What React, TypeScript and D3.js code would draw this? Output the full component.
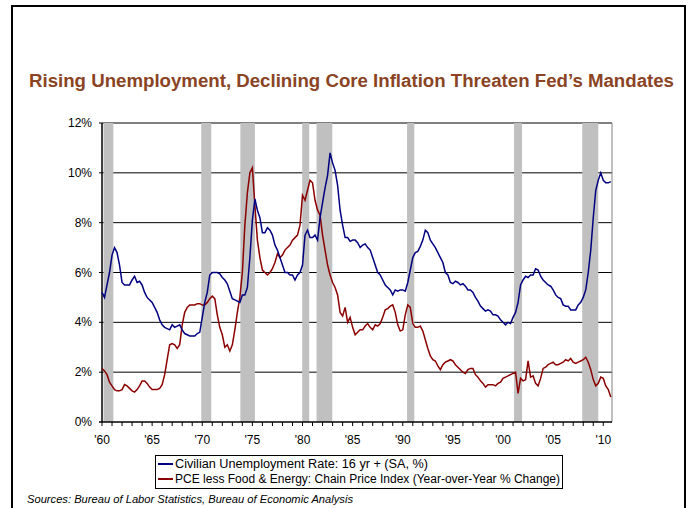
import React from "react";
import * as d3 from "d3";

const startYear = 1960;
// quarterly observations, 1960Q1 .. 2010Q4 (4 per row = one year)
const unemployment = [
  5.2, 5.0, 5.5, 6.0,
  6.7, 7.0, 6.8, 6.3,
  5.6, 5.5, 5.5, 5.5,
  5.7, 5.85, 5.6, 5.65,
  5.5, 5.2, 5.0, 4.9,
  4.8, 4.6, 4.4, 4.1,
  3.9, 3.8, 3.75, 3.7,
  3.9, 3.8, 3.85, 3.9,
  3.7, 3.55, 3.5, 3.45,
  3.45, 3.45, 3.55, 3.6,
  4.2, 4.8, 5.2, 5.9,
  6.0, 6.0, 6.0, 5.95,
  5.8, 5.7, 5.55, 5.25,
  4.95, 4.9, 4.85, 4.8,
  5.1, 5.1, 5.4, 6.6,
  8.1, 8.95, 8.5, 8.2,
  7.6, 7.6, 7.8, 7.7,
  7.5, 7.1, 6.9, 6.6,
  6.3, 6.0, 6.0, 5.9,
  5.9, 5.7, 5.9, 6.0,
  6.3, 7.5, 7.7, 7.4,
  7.4, 7.5, 7.3, 8.2,
  8.8, 9.4, 9.9, 10.8,
  10.4, 10.1, 9.5, 8.5,
  7.9, 7.4, 7.4, 7.25,
  7.3, 7.3, 7.2, 7.0,
  7.1, 7.15, 7.0, 6.9,
  6.6, 6.3, 6.0, 5.9,
  5.7, 5.5, 5.4, 5.3,
  5.1, 5.3, 5.25, 5.3,
  5.3, 5.25, 5.6, 6.1,
  6.6, 6.8, 6.85, 7.05,
  7.3, 7.7, 7.6, 7.3,
  7.15, 7.0, 6.8, 6.6,
  6.4, 6.0, 5.9, 5.6,
  5.55, 5.65, 5.6, 5.5,
  5.55, 5.45, 5.3, 5.3,
  5.2, 5.0, 4.85, 4.65,
  4.55, 4.45, 4.5, 4.45,
  4.3, 4.3, 4.25, 4.1,
  4.0, 3.9, 4.0, 3.95,
  4.2, 4.4, 4.8, 5.5,
  5.7, 5.85, 5.8, 5.9,
  5.9, 6.15, 6.1, 5.85,
  5.7, 5.6, 5.5, 5.45,
  5.3, 5.1, 5.0, 4.95,
  4.7, 4.65, 4.65, 4.5,
  4.5, 4.5, 4.7, 4.8,
  5.0, 5.3, 6.0, 6.9,
  8.2, 9.3, 9.7, 10.0,
  9.7, 9.6, 9.6, 9.65,
];
const corePce = [
  2.15, 2.05, 1.9, 1.6,
  1.45, 1.3, 1.25, 1.25,
  1.3, 1.5, 1.45, 1.35,
  1.25, 1.2, 1.3, 1.45,
  1.65, 1.65, 1.55, 1.4,
  1.3, 1.3, 1.3, 1.35,
  1.5, 1.9, 2.5, 3.1,
  3.15, 3.1, 2.95, 3.1,
  3.9, 4.4, 4.6, 4.7,
  4.7, 4.7, 4.75, 4.75,
  4.7, 4.7, 4.8, 4.95,
  5.05, 4.95, 4.3, 3.8,
  3.5, 3.0, 3.1, 2.85,
  3.1, 3.7, 4.4, 5.0,
  6.0, 7.9, 9.2, 10.0,
  10.2, 8.7, 7.3, 6.6,
  6.1, 6.0, 5.9, 6.0,
  6.15, 6.4, 6.75, 6.6,
  6.7, 6.9, 7.0, 7.1,
  7.3, 7.4, 7.5, 7.9,
  9.1, 8.9, 9.3, 9.7,
  9.6, 8.9, 8.5, 8.3,
  7.5, 6.9, 6.3, 5.9,
  5.6, 5.4, 5.1, 4.4,
  4.25, 4.6, 4.0, 4.2,
  3.8, 3.5, 3.6, 3.7,
  3.7, 3.85, 3.95, 3.8,
  3.7, 3.9, 3.85, 3.95,
  4.2, 4.5, 4.55, 4.65,
  4.7, 4.4, 3.9, 3.65,
  3.7, 4.3, 4.7, 4.6,
  3.95, 3.8, 3.8, 3.85,
  3.65, 3.3, 2.95, 2.65,
  2.5, 2.45, 2.25, 2.1,
  2.3, 2.4, 2.45, 2.5,
  2.45, 2.3, 2.2, 2.1,
  2.0, 1.95, 2.1, 2.15,
  2.15, 1.9, 1.8, 1.65,
  1.55, 1.4, 1.5, 1.5,
  1.5, 1.45, 1.55, 1.6,
  1.75, 1.8, 1.85, 1.9,
  1.95, 2.0, 1.15, 1.75,
  1.65, 1.7, 2.45, 1.8,
  1.85, 1.55, 1.45, 1.75,
  2.15, 2.2, 2.3, 2.35,
  2.4, 2.3, 2.3, 2.35,
  2.4, 2.5, 2.45, 2.55,
  2.4, 2.35, 2.4, 2.45,
  2.5, 2.6, 2.4, 2.1,
  1.7, 1.45, 1.55, 1.8,
  1.75, 1.45, 1.3, 1.0,
];
const recessions: [number, number][] = [
  [1960.15, 1961.13],
  [1969.9, 1970.9],
  [1973.8, 1975.25],
  [1979.97, 1980.67],
  [1981.4, 1982.97],
  [1990.43, 1991.15],
  [2001.1, 2001.9],
  [2007.9, 2009.5],
];
const yTicks = [0, 2, 4, 6, 8, 10, 12];
const xLabelYears = [1960, 1965, 1970, 1975, 1980, 1985, 1990, 1995, 2000, 2005, 2010];
const xLabels = ["'60", "'65", "'70", "'75", "'80", "'85", "'90", "'95", "'00", "'05", "'10"];
const title = "Rising Unemployment, Declining Core Inflation Threaten Fed\u2019s Mandates";
const legendLabels = [
  "Civilian Unemployment Rate: 16 yr + (SA, %)",
  "PCE less Food & Energy: Chain Price Index (Year-over-Year % Change)",
];
const source = "Sources: Bureau of Labor Statistics, Bureau of Economic Analysis";

export default function App() {
  const left = 102, right = 612, top = 123, bottom = 422;
  const x = d3.scaleLinear().domain([1960, 2010.87]).range([left, right]);
  const y = d3.scaleLinear().domain([0, 12]).range([bottom, top]);
  const line = d3
    .line<number>()
    .x((_, i) => x(startYear + i / 4))
    .y((d) => y(d));
  const yearTicks = d3.range(1960, 2011);
  const narrow = "'Liberation Sans Narrow', 'Arial Narrow', 'Liberation Sans', Arial, sans-serif";
  const sans = "'Liberation Sans', Arial, sans-serif";
  return (
    <svg
      width={689}
      height={508}
      style={{ position: "absolute", left: 0, top: 0, background: "#fff" }}
    >
      <rect x={12} y={6} width={673} height={510} fill="#fff" stroke="#000" strokeWidth={2} />
      <text
        x={29}
        y={87}
        fontFamily={narrow}
        fontWeight="bold"
        fontSize={18}
        fill="#8a4424"
        textLength={645}
        lengthAdjust="spacingAndGlyphs"
      >
        {title}
      </text>
      {/* gridlines */}
      {yTicks.slice(1).map((t) => (
        <line key={t} x1={left - 3} x2={right} y1={y(t)} y2={y(t)} stroke="#000" strokeWidth={1} />
      ))}
      {/* recession bars */}
      {recessions.map(([a, b], i) => (
        <rect key={i} x={x(a)} y={top} width={x(b) - x(a)} height={bottom - top} fill="#c0c0c0" />
      ))}
      {/* right border */}
      <line x1={right} x2={right} y1={top} y2={bottom} stroke="#808080" strokeWidth={1} />
      {/* axes */}
      <line x1={left} x2={left} y1={top} y2={bottom} stroke="#000" strokeWidth={1.5} />
      <line x1={left - 3} x2={right} y1={bottom} y2={bottom} stroke="#000" strokeWidth={1.5} />
      {yearTicks.map((t) => (
        <line key={t} x1={x(t)} x2={x(t)} y1={bottom} y2={bottom + 4} stroke="#000" strokeWidth={1} />
      ))}
      {yTicks.map((t) => (
        <text key={t} x={92} y={y(t) + 4} textAnchor="end" fontFamily={sans} fontSize={12} fill="#000">
          {t}%
        </text>
      ))}
      {xLabelYears.map((t, i) => (
        <text key={t} x={x(t)} y={444} textAnchor="middle" fontFamily={sans} fontSize={12} fill="#000">
          {xLabels[i]}
        </text>
      ))}
      {/* series */}
      <path d={line(corePce) || ""} fill="none" stroke="#8b0000" strokeWidth={1.5} />
      <path d={line(unemployment) || ""} fill="none" stroke="#000080" strokeWidth={1.5} />
      {/* legend */}
      <rect x={155.5} y={455.5} width={407} height={33} fill="#fff" stroke="#000" strokeWidth={1} />
      <line x1={158} x2={173} y1={464} y2={464} stroke="#000080" strokeWidth={2} />
      <line x1={158} x2={173} y1={479} y2={479} stroke="#8b0000" strokeWidth={2} />
      <text x={175} y={468} fontFamily={narrow} fontSize={12} fill="#000" textLength={253} lengthAdjust="spacingAndGlyphs">
        {legendLabels[0]}
      </text>
      <text x={175} y={483} fontFamily={narrow} fontSize={12} fill="#000" textLength={385} lengthAdjust="spacingAndGlyphs">
        {legendLabels[1]}
      </text>
      <text x={27} y={503} fontFamily={narrow} fontStyle="italic" fontSize={11} fill="#000" textLength={326} lengthAdjust="spacingAndGlyphs">
        {source}
      </text>
    </svg>
  );
}
